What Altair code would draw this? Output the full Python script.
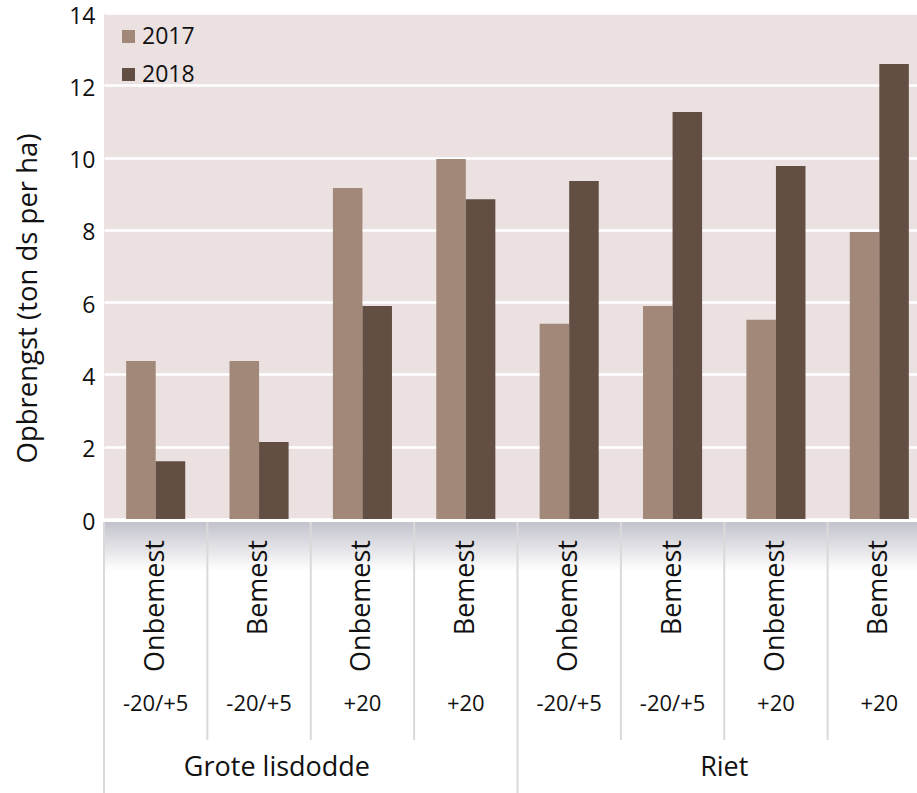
import altair as alt
import pandas as pd

# Proefvelden: gewas, bemesting en peil (cm t.o.v. maaiveld)
gewas = ["Grote lisdodde"] * 4 + ["Riet"] * 4
bemesting = ["Onbemest", "Bemest", "Onbemest", "Bemest"] * 2
peil = ["-20/+5", "-20/+5", "+20", "+20"] * 2

# Opbrengst in ton droge stof per hectare
opbrengst_2017 = [4.37, 4.37, 9.16, 9.96, 5.40, 5.89, 5.51, 7.94]
opbrengst_2018 = [1.60, 2.13, 5.89, 8.85, 9.35, 11.26, 9.77, 12.59]

jaren = ["2017", "2018"]
kleuren = ["#A28878", "#624E42"]
y_ticks = [0, 2, 4, 6, 8, 10, 12, 14]

FONT = "Open Sans"
INK = "#111111"
PLOT_W, PLOT_H = 813, 506

veld = [f"{g} | {b} | {p}" for g, b, p in zip(gewas, bemesting, peil)]

rows = []
for i, v in enumerate(veld):
    rows.append({"veld": v, "jaar": "2017", "opbrengst": opbrengst_2017[i]})
    rows.append({"veld": v, "jaar": "2018", "opbrengst": opbrengst_2018[i]})
df = pd.DataFrame(rows)

labels = pd.DataFrame({"veld": veld, "gewas": gewas, "bemesting": bemesting, "peil": peil})

# band scale wider than the view: the last field runs past the right edge
x_scale = alt.Scale(domain=veld, range=[0, 827], paddingInner=0, paddingOuter=0)


def xpos(band_position=0.5):
    return alt.X("veld:N", scale=x_scale, axis=None, bandPosition=band_position)


bars = alt.Chart(df).mark_bar().encode(
    x=xpos(),
    xOffset=alt.XOffset("jaar:N", scale=alt.Scale(domain=jaren, paddingInner=0, paddingOuter=0.75)),
    y=alt.Y(
        "opbrengst:Q",
        scale=alt.Scale(domain=[0, 14], nice=False),
        axis=alt.Axis(
            values=y_ticks,
            format="d",
            title="Opbrengst (ton ds per ha)",
            titleFont=FONT,
            titleFontSize=27.5,
            titleFontWeight="normal",
            titleColor=INK,
            titleAngle=270,
            titleAlign="center",
            titleBaseline="middle",
            titleX=-76,
            titleY=285,
            labelFont=FONT,
            labelFontSize=23,
            labelColor=INK,
            labelPadding=9,
            labelOffset=3,
            ticks=False,
            domain=False,
            grid=True,
            gridColor="#ffffff",
            gridWidth=2.5,
            gridOpacity=1,
        ),
    ),
    color=alt.Color(
        "jaar:N",
        scale=alt.Scale(domain=jaren, range=kleuren),
        legend=alt.Legend(
            title=None,
            orient="none",
            legendX=13,
            legendY=12,
            padding=0,
            symbolType="square",
            symbolSize=169,
            symbolStrokeWidth=0,
            symbolOpacity=1,
            labelFont=FONT,
            labelFontSize=23,
            labelColor=INK,
            labelOffset=2,
            rowPadding=14,
        ),
    ),
)

# soft shadow under the plot area
shadow = alt.Chart(pd.DataFrame({"s": [0]})).mark_rect(
    color=alt.Gradient(
        gradient="linear",
        stops=[
            alt.GradientStop(color="#c2c2cc", offset=0),
            alt.GradientStop(color="#ffffff", offset=1),
        ],
        x1=0, x2=0, y1=0, y2=1,
    )
).encode(x=alt.value(0), x2=alt.value(PLOT_W), y=alt.value(PLOT_H + 3), y2=alt.value(PLOT_H + 52))

# separators between the fields below the axis
inner_sep = alt.Chart(labels[~labels.index.isin([0, 4])]).mark_rule(
    color="#d9d9d9", strokeWidth=2
).encode(x=xpos(0), y=alt.value(PLOT_H + 3), y2=alt.value(PLOT_H + 221))

outer_sep = alt.Chart(labels[labels.index.isin([0, 4])]).mark_rule(
    color="#d9d9d9", strokeWidth=2
).encode(x=xpos(0), y=alt.value(PLOT_H + 3), y2=alt.value(PLOT_H + 274))

bemesting_text = alt.Chart(labels).mark_text(
    angle=270, align="right", baseline="middle", font=FONT, fontSize=27, color=INK
).encode(x=xpos(), y=alt.value(PLOT_H + 21), text="bemesting:N")

peil_text = alt.Chart(labels).mark_text(
    align="center", baseline="middle", font=FONT, fontSize=22, color=INK
).encode(x=xpos(), y=alt.value(PLOT_H + 185), text="peil:N")

lisdodde_text = alt.Chart(labels.iloc[[1]]).mark_text(
    align="center", baseline="middle", font=FONT, fontSize=27, color=INK
).encode(x=xpos(0.673), y=alt.value(PLOT_H + 249), text="gewas:N")

riet_text = alt.Chart(labels.iloc[[5]]).mark_text(
    align="center", baseline="middle", font=FONT, fontSize=27, color=INK
).encode(x=xpos(1.0), y=alt.value(PLOT_H + 249), text="gewas:N")

chart = (
    alt.layer(shadow, inner_sep, outer_sep, bars, bemesting_text, peil_text, lisdodde_text, riet_text)
    .properties(
        width=PLOT_W,
        height=PLOT_H,
        autosize=alt.AutoSizeParams(type="none"),
        padding={"left": 104, "top": 13, "right": 0, "bottom": 274},
        background="#ffffff",
    )
    .configure(font=FONT, view=alt.ViewConfig(fill="#EBE1E1", strokeWidth=0))
)

chart.save("out.html", embed_options={"renderer": "svg", "actions": False})
